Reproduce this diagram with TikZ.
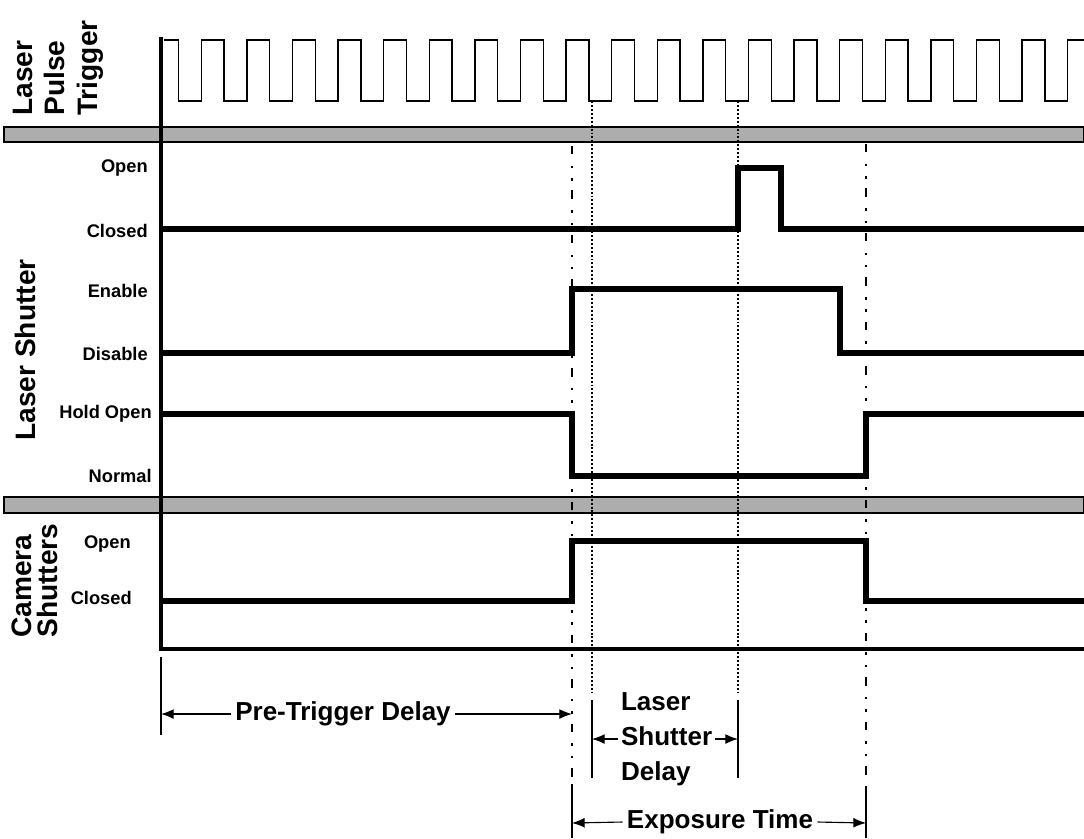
\documentclass[tikz,border=0pt]{standalone}
\usepackage{fontspec}
\setmainfont{Liberation Sans}
\usetikzlibrary{arrows.meta}

\tikzset{
  signal/.style={line width=3.6pt, line join=miter},
  axisline/.style={line width=3pt},
  pulse/.style={line width=1pt},
  band/.style={draw=black, line width=1pt, fill=black!32},
  level/.style={anchor=east, inner sep=0pt, font=\fontsize{13}{15}\selectfont\bfseries},
  group/.style={rotate=90, inner sep=0pt, align=left, font=\fontsize{20}{22}\selectfont\bfseries},
  dotmark/.style={line width=1.8pt, dash pattern=on 1.4pt off 1.4pt},
  dashdotmark/.style={line width=1.8pt, dash pattern=on 6pt off 8pt on 1.8pt off 7pt on 1.8pt off 7pt},
  extline/.style={line width=0.8pt},
  dimarrow/.style={line width=0.8pt, -{Latex[length=9pt,width=7pt]}},
  dimtext/.style={inner sep=3pt, align=left, font=\fontsize{18.5}{25}\selectfont\bfseries}
}

\begin{document}
\begin{tikzpicture}[x=0.025cm, y=-0.025cm]
  \useasboundingbox (0,0) rectangle (1084,838);

  \draw[band] (4,127) rectangle (1084,142);
  \draw[band] (4,497) rectangle (1084,513);

  \draw[pulse] (164,40) foreach \k in {0,...,19} {
      -- ({178.5+45.6*\k},40) -- ({178.5+45.6*\k},101)
      -- ({201.3+45.6*\k},101) -- ({201.3+45.6*\k},40) } -- (1084,40);

  \draw[dotmark] (592,101) -- (592,693);
  \draw[dotmark] (738,101) -- (738,693);
  \draw[dashdotmark] (572,146) -- (572,783);
  \draw[dashdotmark] (866,144) -- (866,786);

  \draw[signal] (163,229) -- (738,229) -- (738,168) -- (781,168) -- (781,229) -- (1084,229);
  \draw[signal] (163,353) -- (572,353) -- (572,289) -- (840,289) -- (840,353) -- (1084,353);
  \draw[signal] (163,414) -- (572,414) -- (572,476) -- (866,476) -- (866,414) -- (1084,414);
  \draw[signal] (163,601) -- (572,601) -- (572,541) -- (866,541) -- (866,601) -- (1084,601);

  \draw[axisline] (161,37) -- (161,649) -- (1084,649);

  \node[level] (lsOpen) at (148,168) {Open};
  \node[level] (lsClosed) at (148,231) {Closed};
  \node[level] (lsEnable) at (148,291) {Enable};
  \node[level] (lsDisable) at (148,354) {Disable};
  \node[level] (lsHold) at (152,414) {Hold Open};
  \node[level] (lsNormal) at (152,476) {Normal};
  \node[level] (csOpen) at (131,544) {Open};
  \node[level] (csClosed) at (132,598) {Closed};

  \node[group, anchor=north west, font=\fontsize{20}{23}\selectfont\bfseries] (trig) at (13,116) {Laser\\Pulse\\Trigger};
  \node[group] (shut) at (25,350) {Laser Shutter};
  \node[group, anchor=north west, font=\fontsize{20}{18.5}\selectfont\bfseries] (cam) at (12,638) {Camera\\Shutters};

  \coordinate (p0) at (161,714);
  \coordinate (p1) at (572,714);
  \coordinate (s0) at (592,739);
  \coordinate (s1) at (738,739);
  \coordinate (e0) at (572,823);
  \coordinate (e1) at (866,823);

  \draw[extline] (161,657) -- (161,735);
  \draw[extline] (592,700) -- (592,778);
  \draw[extline] (738,700) -- (738,778);
  \draw[extline] (572,784) -- (572,838);
  \draw[extline] (866,787) -- (866,838);

  \node[dimtext] (pre) at (343,714) {Pre-Trigger Delay};
  \draw[dimarrow] (pre.west) -- (p0);
  \draw[dimarrow] (pre.east) -- (p1);

  \node[dimtext, anchor=west, inner sep=2pt] (lsd) at (618,739) {Laser\\Shutter\\Delay};
  \draw[dimarrow] (lsd.west) -- (s0);
  \draw[dimarrow] (lsd.east) -- (s1);

  \node[dimtext] (expo) at (720,822) {Exposure Time};
  \draw[dimarrow] (expo.west) -- (e0);
  \draw[dimarrow] (expo.east) -- (e1);
\end{tikzpicture}
\end{document}
